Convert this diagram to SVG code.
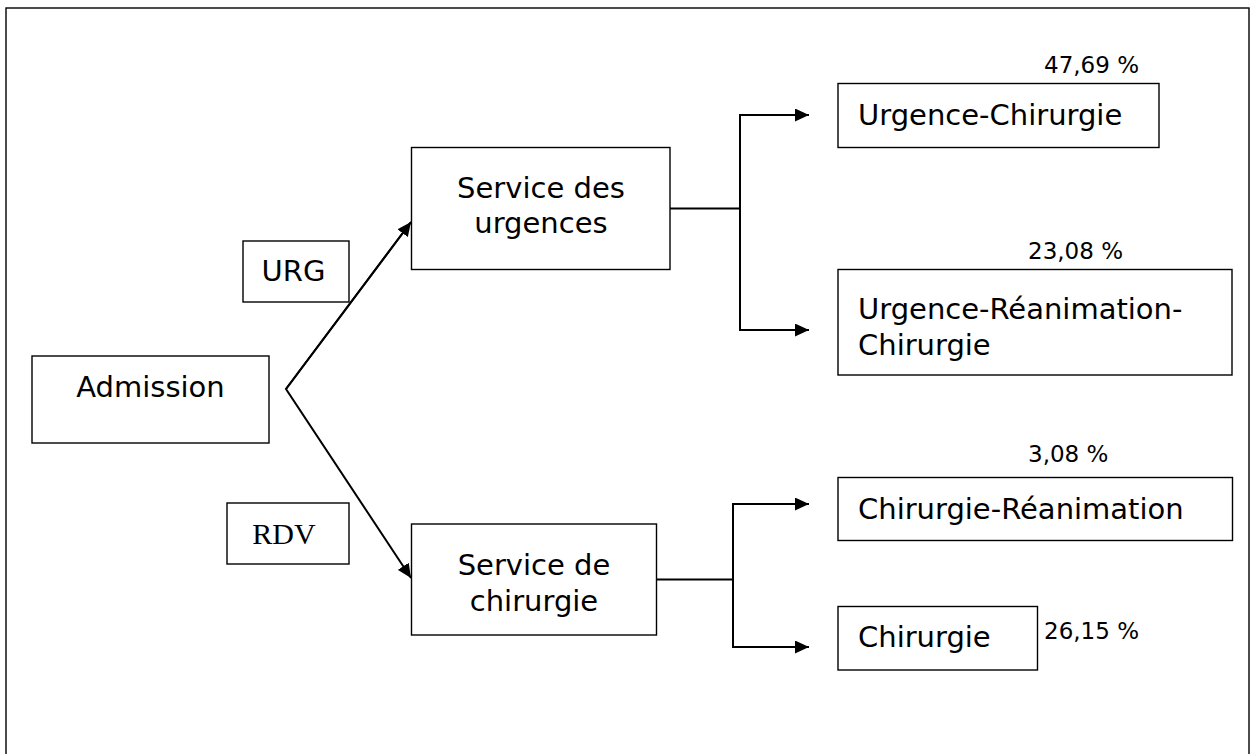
<svg xmlns="http://www.w3.org/2000/svg" width="1252" height="754" viewBox="0 0 1252 754">
<style>
.box{fill:#fff;stroke:#000;stroke-width:1.4}
.lbl{font-family:"DejaVu Sans",sans-serif;font-size:29px;fill:#000}
.c{text-anchor:middle}
.pct{font-family:"DejaVu Sans",sans-serif;font-size:23px;fill:#000}
.ser{font-family:"Liberation Serif",serif;font-size:30px;fill:#000;text-anchor:middle}
.ln{fill:none;stroke:#000;stroke-width:2}
</style>
<defs>
<marker id="ah" markerWidth="14" markerHeight="13" refX="14" refY="6.5" orient="auto" markerUnits="userSpaceOnUse">
<path d="M0,0 L14,6.5 L0,13 z" fill="#000"/>
</marker>
</defs>
<rect x="0" y="0" width="1252" height="754" fill="#fff"/>
<rect id="frame" x="6" y="8" width="1243" height="760" fill="none" stroke="#000" stroke-width="1.4"/>

<g id="connectors">
<path class="ln" d="M411,222 L286,389 L411,578" marker-end="url(#ah)"/>
<path class="ln" d="M286,389 L411,222" marker-end="url(#ah)"/>
<path class="ln" d="M670,208.5 H740"/>
<path class="ln" d="M809,115 H740 V330 H809" marker-end="url(#ah)"/>
<path class="ln" d="M740,115 H809" marker-end="url(#ah)"/>
<path class="ln" d="M656,579.5 H733"/>
<path class="ln" d="M809,504 H733 V647 H809" marker-end="url(#ah)"/>
<path class="ln" d="M733,504 H809" marker-end="url(#ah)"/>
</g>

<g id="admission">
<rect class="box" x="32" y="356" width="237" height="87"/>
<text class="lbl c" x="150.5" y="396.5">Admission</text>
</g>
<g id="urg">
<rect class="box" x="243" y="241" width="106" height="61"/>
<text class="lbl c" x="293.5" y="281">URG</text>
</g>
<g id="rdv">
<rect class="box" x="227" y="503" width="122" height="61"/>
<text class="ser" x="284" y="544">RDV</text>
</g>
<g id="service-urgences">
<rect class="box" x="411.5" y="147.5" width="258.5" height="122"/>
<text class="lbl c" x="541" y="197.5">Service des</text>
<text class="lbl c" x="541" y="233">urgences</text>
</g>
<g id="service-chirurgie">
<rect class="box" x="411.5" y="524" width="245" height="111"/>
<text class="lbl c" x="534" y="575">Service de</text>
<text class="lbl c" x="534" y="611">chirurgie</text>
</g>
<g id="urgence-chirurgie">
<rect class="box" x="838" y="83.5" width="321" height="64"/>
<text class="lbl" x="858" y="125">Urgence-Chirurgie</text>
<text class="pct" x="1044" y="72.5">47,69 %</text>
</g>
<g id="urgence-reanimation-chirurgie">
<rect class="box" x="838" y="269.5" width="394" height="105.5"/>
<text class="lbl" x="858" y="319">Urgence-Réanimation-</text>
<text class="lbl" x="858" y="355">Chirurgie</text>
<text class="pct" x="1028" y="258.5">23,08 %</text>
</g>
<g id="chirurgie-reanimation">
<rect class="box" x="838" y="477.5" width="394.5" height="63"/>
<text class="lbl" x="858" y="518.5">Chirurgie-Réanimation</text>
<text class="pct" x="1028" y="462">3,08 %</text>
</g>
<g id="chirurgie">
<rect class="box" x="838" y="606.5" width="199.5" height="63.5"/>
<text class="lbl" x="858" y="647">Chirurgie</text>
<text class="pct" x="1044" y="639">26,15 %</text>
</g>
</svg>
